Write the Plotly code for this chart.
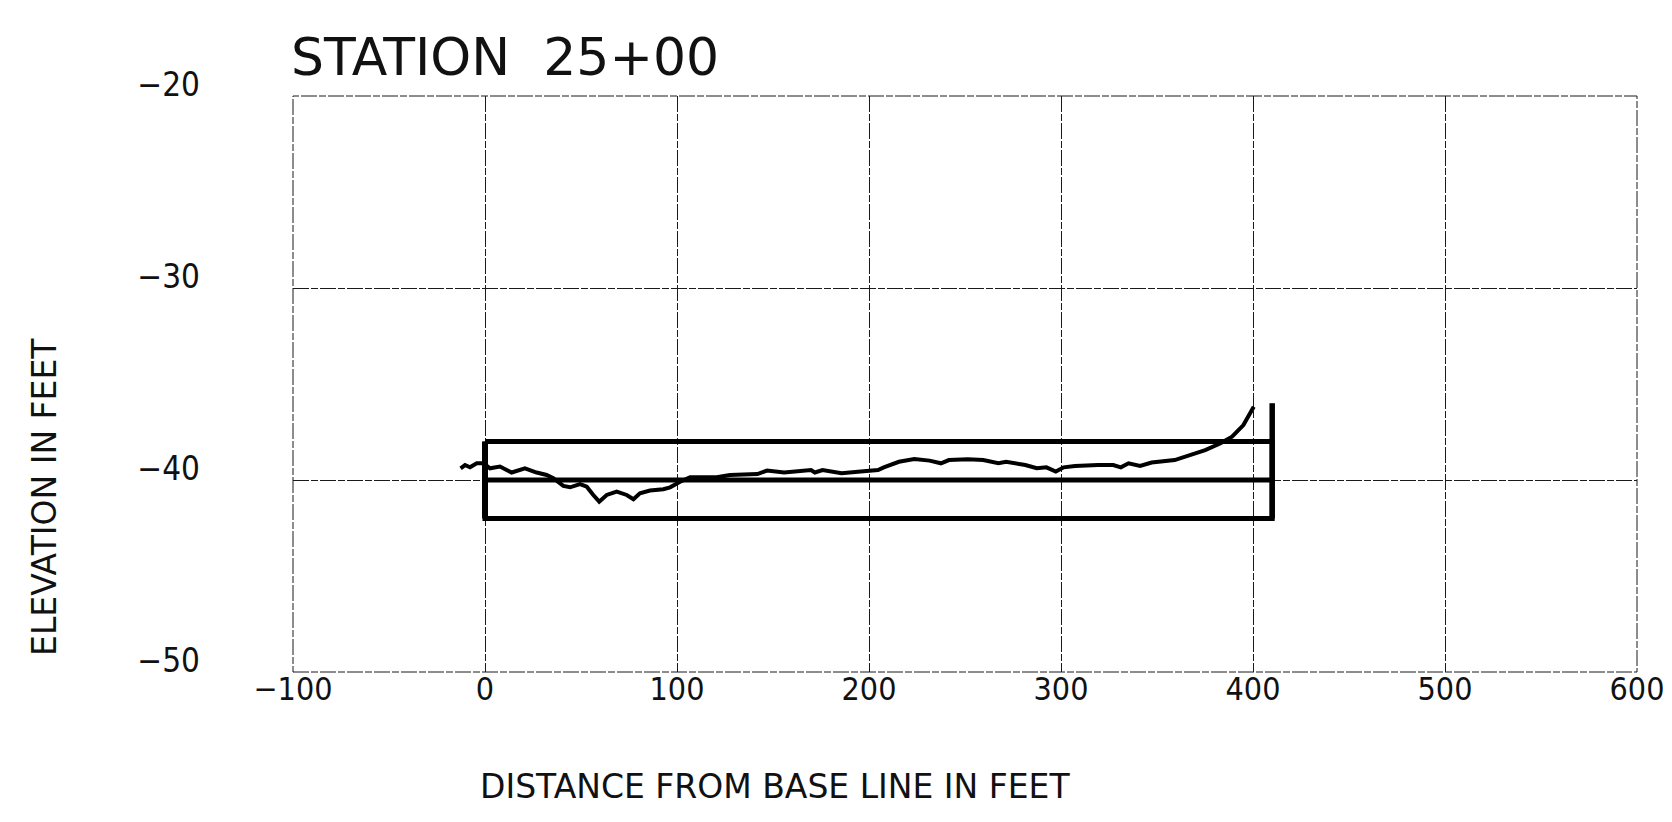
import plotly.graph_objects as go

# ---- data ----
profile_x = [-12.7, -10.4, -7.8, -4.3, -0.8, 2.6, 7.8, 13.9, 20.8, 26.9, 32.1, 35.6, 40.8, 44.3,
             49.5, 53.0, 56.4, 59.5, 63.4, 68.6, 73.8, 77.3, 80.7, 85.9, 92.9, 96.4, 101.6, 106.8,
             112.0, 120.7, 127.6, 131.9, 141.9, 146.9, 155.8, 169.8, 171.8, 175.8, 185.7, 195.7,
             204.7, 207.7, 215.6, 223.6, 231.5, 237.5, 241.6, 251.5, 259.5, 267.4, 271.4, 281.4,
             287.4, 292.4, 297.3, 301.4, 307.3, 319.3, 327.2, 331.2, 335.2, 341.2, 347.2, 359.2,
             367.1, 375.1, 383.1, 389.1, 395.0, 400.4]
profile_y = [-39.39, -39.22, -39.34, -39.13, -39.13, -39.39, -39.30, -39.61, -39.39, -39.61, -39.74,
             -39.91, -40.31, -40.38, -40.21, -40.35, -40.78, -41.13, -40.78, -40.60, -40.78, -41.00,
             -40.69, -40.55, -40.48, -40.38, -40.09, -39.86, -39.86, -39.86, -39.74, -39.74, -39.69,
             -39.51, -39.61, -39.48, -39.61, -39.48, -39.65, -39.56, -39.48, -39.34, -39.05, -38.91,
             -38.99, -39.13, -38.96, -38.92, -38.96, -39.13, -39.05, -39.22, -39.39, -39.34, -39.56,
             -39.34, -39.27, -39.22, -39.22, -39.34, -39.13, -39.27, -39.09, -38.96, -38.70, -38.44,
             -38.09, -37.74, -37.14, -36.18]

box_left = 0
box_right = 410
box_top = -38
box_mid = -40
box_bottom = -42
post_top = -36

x_ticks = [-100, 0, 100, 200, 300, 400, 500, 600]
y_ticks = [-50, -40, -30, -20]

title_text = "STATION  25+00"
x_title = "DISTANCE FROM BASE LINE IN FEET"
y_title = "ELEVATION IN FEET"

FONT_C = "DejaVu Sans Condensed, DejaVu Sans, sans-serif"
FONT = "DejaVu Sans, sans-serif"
INK = "#111111"
DASH = "16px,2px,7px,2px"

fig = go.Figure()

# box outline
fig.add_trace(go.Scatter(
    x=[box_left, box_right, box_right, box_left, box_left],
    y=[box_top, box_top, box_bottom, box_bottom, box_top],
    mode="lines", line=dict(color="black", width=5), hoverinfo="skip", showlegend=False))
# middle line
fig.add_trace(go.Scatter(
    x=[box_left, box_right], y=[box_mid, box_mid],
    mode="lines", line=dict(color="black", width=5), hoverinfo="skip", showlegend=False))
# right post
fig.add_trace(go.Scatter(
    x=[box_right, box_right], y=[post_top, box_bottom],
    mode="lines", line=dict(color="black", width=5.5), hoverinfo="skip", showlegend=False))
# left post (thicker)
fig.add_trace(go.Scatter(
    x=[box_left, box_left], y=[box_top, box_bottom],
    mode="lines", line=dict(color="black", width=6), hoverinfo="skip", showlegend=False))
# ground profile
fig.add_trace(go.Scatter(
    x=profile_x, y=profile_y, mode="lines",
    line=dict(color="black", width=4), showlegend=False))

grid = dict(showgrid=True, gridcolor="#1a1a1a", gridwidth=1, griddash=DASH,
            zeroline=False, showline=False, ticks="")

fig.update_xaxes(range=[-100, 600], tickvals=x_ticks, **grid,
                 tickfont=dict(family=FONT_C, size=32, color=INK),
                 ticklabelstandoff=-5, ticklabeloverflow="allow")
fig.update_yaxes(range=[-50, -20], tickvals=y_ticks, **grid,
                 tickfont=dict(family=FONT_C, size=33, color=INK),
                 ticklabelstandoff=92, ticklabelshift=-12, ticklabeloverflow="allow")

# dashed plot frame
fig.add_shape(type="rect", xref="paper", yref="paper", x0=0, x1=1, y0=0, y1=1,
              line=dict(color="#1a1a1a", width=1, dash=DASH), layer="below")

fig.add_annotation(text=title_text, xref="paper", yref="paper", x=-0.003, y=1.068,
                   xanchor="left", yanchor="middle", showarrow=False,
                   font=dict(family=FONT, size=52, color=INK))
fig.add_annotation(text=x_title, xref="paper", yref="paper", x=0.359, y=-0.198,
                   xanchor="center", yanchor="middle", showarrow=False,
                   font=dict(family=FONT, size=33, color=INK))
fig.add_annotation(text=y_title, xref="paper", yref="paper", x=-0.1845, y=0.304,
                   xanchor="center", yanchor="middle", textangle=-90, showarrow=False,
                   font=dict(family=FONT, size=33, color=INK))

# page body has an 8px margin: size the figure so the plot area lands where the reference has it
fig.update_layout(width=1664, height=806, margin=dict(l=285, r=35, t=88, b=142, autoexpand=False),
                  plot_bgcolor="white", paper_bgcolor="white", showlegend=False)

fig.write_html("out.html")
